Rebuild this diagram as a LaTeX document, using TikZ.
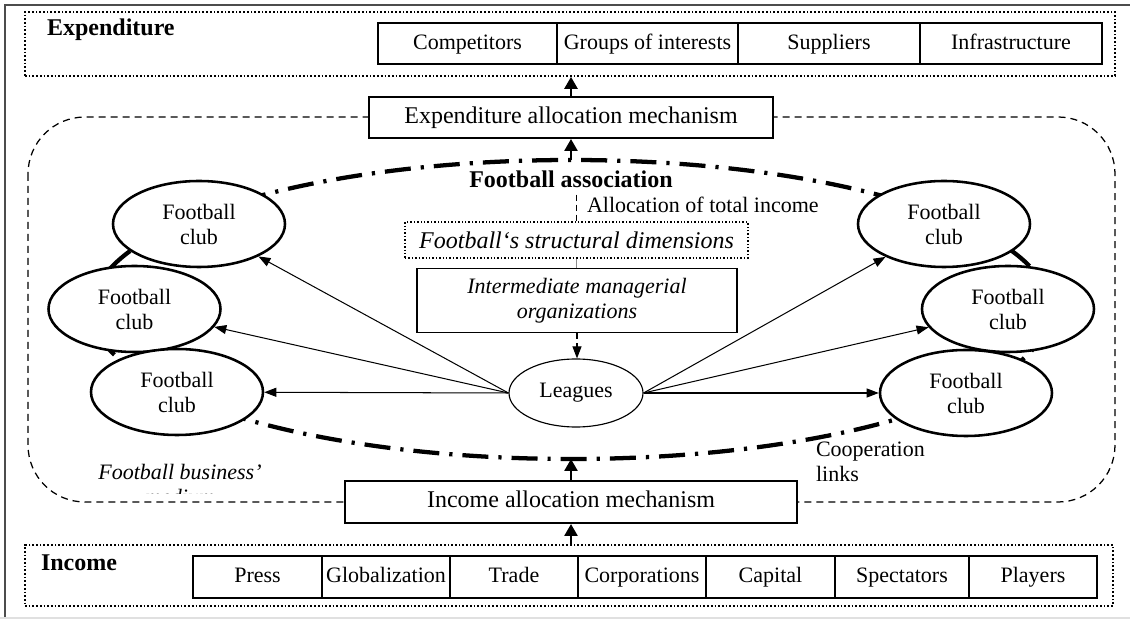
\documentclass[tikz,border=0pt]{standalone}
\usepackage{fontspec}
\setmainfont{Liberation Serif}
\usetikzlibrary{arrows.meta,shapes.geometric}

\tikzset{
	cell/.style={draw, line width=0.35mm, inner sep=0pt, minimum height=20.5pt, text height=8pt, text depth=2pt, font=\fontsize{11}{13}\selectfont},
	zone/.style={draw, densely dotted, line width=0.3mm, inner sep=0pt},
	mech/.style={draw, fill=white, line width=0.35mm, inner sep=0pt, text height=8.2pt, text depth=2.6pt, font=\fontsize{12}{14}\selectfont},
	club/.style={draw, ellipse, fill=white, line width=0.45mm, inner sep=0pt, minimum width=86pt, minimum height=43pt, align=center, font=\fontsize{11}{12.5}\selectfont},
	thinarrow/.style={line width=0.18mm, -{Triangle[length=6pt,width=4.5pt]}},
	heavyarrow/.style={line width=0.45mm, -{Triangle[length=6pt,width=6.5pt]}},
}

\begin{document}
\begin{tikzpicture}[x=0.5pt, y=-0.5pt]
			%%%%% START %%%%%
			
			\useasboundingbox (0,0) rectangle (1130,619);
			\draw[line width=0.35mm, color=black!70] (5,619) -- (5,5) -- (1130,5);
			\draw[line width=0.2mm, color=black!12] (0,618) -- (1130,618);
			
			\node[zone, minimum width=545pt, minimum height=32pt] (expzone) at (570,44) {};
			\node[anchor=west, font=\bfseries\fontsize{12}{14}\selectfont] (explabel) at (40,30) {Expenditure};
			\node[cell, minimum width=89.5pt] (comp) at (467.5,43.5) {Competitors};
			\node[cell, minimum width=90.5pt] (groups) at (647.5,43.5) {Groups of interests};
			\node[cell, minimum width=91pt] (suppl) at (829,43.5) {Suppliers};
			\node[cell, minimum width=91pt] (infra) at (1011,43.5) {Infrastructure};
			
			\node[zone, minimum width=544pt, minimum height=30.5pt] (inzone) at (569,575.5) {};
			\node[anchor=west, font=\bfseries\fontsize{12}{14}\selectfont] (inlabel) at (34,563) {Income};
			\node[cell, minimum width=64.5pt, minimum height=21pt] (press) at (257.5,577) {Press};
			\node[cell, minimum width=64pt, minimum height=21pt] (glob) at (386,577) {Globalization};
			\node[cell, minimum width=64pt, minimum height=21pt] (trade) at (514,577) {Trade};
			\node[cell, minimum width=64pt, minimum height=21pt] (corp) at (642,577) {Corporations};
			\node[cell, minimum width=64.5pt, minimum height=21pt] (capital) at (770.5,577) {Capital};
			\node[cell, minimum width=67pt, minimum height=21pt] (spect) at (902,577) {Spectators};
			\node[cell, minimum width=64pt, minimum height=21pt] (players) at (1033,577) {Players};
			
			\draw[line width=0.22mm, dash pattern=on 3.5pt off 2.5pt, rounded corners=28.5pt] (28,117) rectangle (1115,502);
			
			\draw[line width=0.75mm, dash pattern=on 13pt off 5pt on 1.6pt off 5pt] (571,309.5) ellipse [x radius=239.5pt, y radius=74.75pt];
			\coordinate (ringtop) at (571,160);
			\coordinate (ringbot) at (571,459);
			
			\node[mech, minimum width=202pt, minimum height=20.5pt] (expalloc) at (571,117.5) {Expenditure allocation mechanism};
			\node[mech, minimum width=226pt, minimum height=21pt] (inalloc) at (571,502) {Income allocation mechanism};
			
			\draw[heavyarrow] (expalloc.north) -- (expalloc.north |- expzone.south);
			\draw[heavyarrow] (ringtop) -- (expalloc.south);
			\draw[heavyarrow] (inalloc.south |- inzone.north) -- (inalloc.south);
			\draw[heavyarrow] (inalloc.north) -- (ringbot);
			
			\node[font=\bfseries\fontsize{12}{14}\selectfont] (assoc) at (571,179) {Football association};
			\node[anchor=west, font=\fontsize{11}{13}\selectfont] (alloc) at (580,205) {Allocation of total income};
			\node[draw, densely dotted, line width=0.25mm, minimum width=171.5pt, minimum height=18pt, inner sep=0pt, font=\itshape\fontsize{12}{14}\selectfont] (struct) at (576.5,240) {Football‘s structural dimensions};
			\node[draw, line width=0.3mm, minimum width=160pt, minimum height=32pt, inner sep=0pt, align=center, font=\itshape\fontsize{11}{12.5}\selectfont] (inter) at (577,300.5) {Intermediate managerial\\organizations};
			\node[draw, ellipse, line width=0.2mm, minimum width=67pt, minimum height=34pt, inner sep=0pt, font=\fontsize{11}{13}\selectfont] (lg) at (576,393) {Leagues};
			
			\draw[line width=0.2mm, dash pattern=on 3pt off 2pt] (assoc.south -| struct.north) -- (struct.north);
			\draw[line width=0.2mm, color=black!45] (struct.south) -- (struct.south |- inter.north);
			\draw[thinarrow, dash pattern=on 3pt off 2pt] (inter.south) -- (inter.south |- lg.north);
			
			\node[club] (cl1) at (199,224) {Football\\club};
			\node[club] (cl2) at (134.5,309) {Football\\club};
			\node[club] (cl3) at (177,392) {Football\\club};
			\node[club] (cr1) at (944,224) {Football\\club};
			\node[club] (cr2) at (1008,309) {Football\\club};
			\node[club] (cr3) at (966,393) {Football\\club};
			
			\draw[thinarrow] (lg.west) -- (cl1);
			\draw[thinarrow] (lg.west) -- (cl2);
			\draw[thinarrow] (lg.west) -- (cl3);
			\draw[thinarrow] (lg.east) -- (cr1);
			\draw[thinarrow] (lg.east) -- (cr2);
			\draw[thinarrow] (lg.east) -- (cr3);
			
			\begin{scope}
				\clip (90,455) rectangle (290,494);
				\node[align=center, font=\itshape\fontsize{11}{12.5}\selectfont] (medium) at (180,484.5) {Football business'\\medium};
			\end{scope}
			\node[anchor=west, align=left, font=\fontsize{11}{12.5}\selectfont] (coop) at (809,462) {Cooperation\\links};
			
			%%%%% END %%%%%
\end{tikzpicture}
\end{document}
